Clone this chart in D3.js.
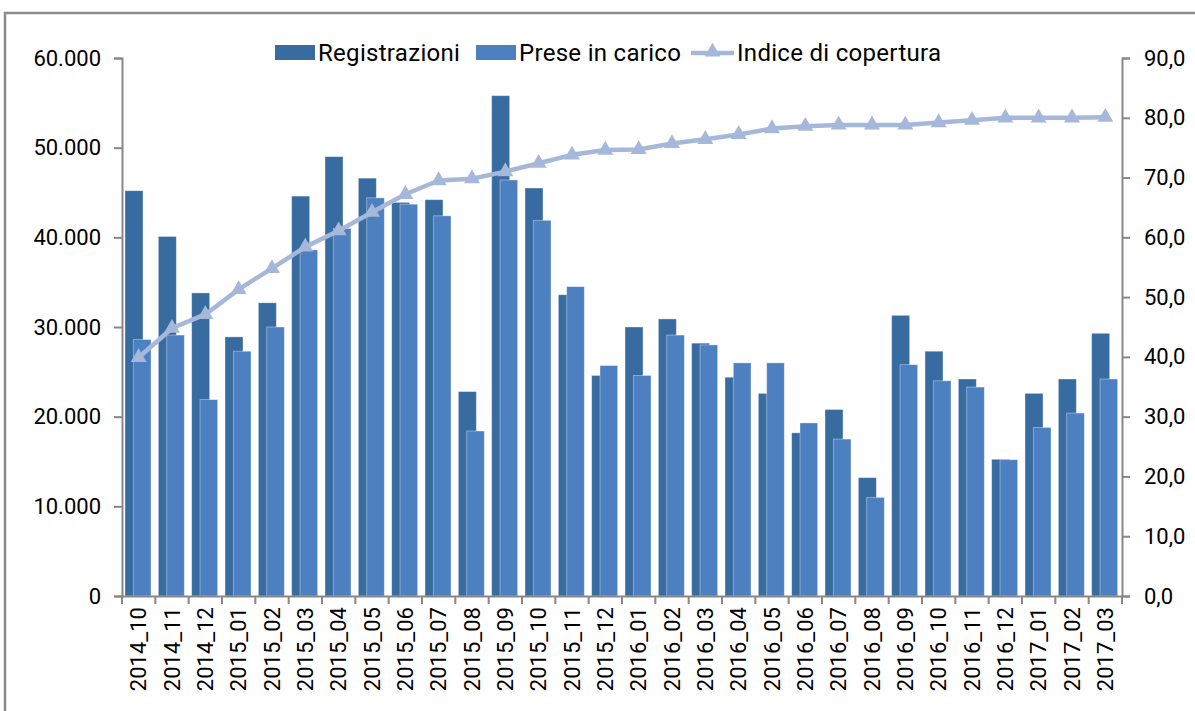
<!DOCTYPE html>
<html>
<head>
<meta charset="utf-8">
<script src="https://cdn.jsdelivr.net/npm/d3@7/dist/d3.min.js"></script>
<style>
  body { margin: 0; background: #fff; }
  text { font-family: Roboto, "Liberation Sans", Arial, sans-serif; }
</style>
</head>
<body>
<div id="chart"></div>
<script>
var months = ["2014_10","2014_11","2014_12","2015_01","2015_02","2015_03","2015_04","2015_05","2015_06","2015_07",
  "2015_08","2015_09","2015_10","2015_11","2015_12","2016_01","2016_02","2016_03","2016_04","2016_05",
  "2016_06","2016_07","2016_08","2016_09","2016_10","2016_11","2016_12","2017_01","2017_02","2017_03"];

var registrazioni = [45200, 40100, 33800, 28900, 32700, 44600, 49000, 46600, 43900, 44200,
  22800, 55800, 45500, 33600, 24600, 30000, 30900, 28200, 24400, 22600,
  18200, 20800, 13200, 31300, 27300, 24200, 15250, 22600, 24200, 29300];

var preseInCarico = [28600, 29100, 21900, 27300, 30000, 38600, 41000, 44400, 43700, 42400,
  18400, 46400, 41900, 34500, 25700, 24600, 29100, 28000, 26000, 26000,
  19300, 17500, 11000, 25800, 24000, 23300, 15200, 18800, 20400, 24200];

var indiceCopertura = [39.9, 44.8, 47.1, 51.3, 54.8, 58.4, 61.1, 64.2, 67.2, 69.5,
  69.8, 71.0, 72.4, 73.8, 74.6, 74.7, 75.7, 76.4, 77.2, 78.2,
  78.6, 78.8, 78.8, 78.8, 79.2, 79.6, 80.0, 80.0, 80.0, 80.1];

var leftTicks = [0, 10000, 20000, 30000, 40000, 50000, 60000];
var rightTicks = [0, 10, 20, 30, 40, 50, 60, 70, 80, 90];

var width = 1195, height = 711;
var plotLeft = 122, plotRight = 1122, plotTop = 58, plotBottom = 596;

var colDark = "#386ba0", colLight = "#4d80c0", colLine = "#a6b8da", axisCol = "#878787";

var it = d3.formatLocale({decimal: ",", thousands: ".", grouping: [3], currency: ["€", ""]});
var fmtLeft = it.format(",.0f"), fmtRight = it.format(",.1f");

var svg = d3.select('#chart').append('svg')
  .attr('width', width)
  .attr('height', height);

// outer frame (runs off the right and bottom edges)
svg.append('rect')
  .attr('x', 5).attr('y', 13)
  .attr('width', 1250).attr('height', 760)
  .attr('fill', 'none')
  .attr('stroke', '#8c8c8c')
  .attr('stroke-width', 2.5);

var x = d3.scaleBand().domain(months).range([plotLeft, plotRight]).padding(0);
var yL = d3.scaleLinear().domain([0, 60000]).range([plotBottom, plotTop]);
var yR = d3.scaleLinear().domain([0, 90]).range([plotBottom, plotTop]);
var bw = x.bandwidth();

// bars: dark behind, light in front, overlapping
svg.append('g').selectAll('rect')
  .data(registrazioni)
  .enter().append('rect')
  .attr('x', function(d, i) { return x(months[i]) + bw * 0.09; })
  .attr('y', function(d) { return yL(d); })
  .attr('width', bw * 0.54)
  .attr('height', function(d) { return yL(0) - yL(d); })
  .attr('fill', colDark)
  .attr('stroke', 'rgba(255,255,255,0.45)')
  .attr('stroke-width', 0.8);

svg.append('g').selectAll('rect')
  .data(preseInCarico)
  .enter().append('rect')
  .attr('x', function(d, i) { return x(months[i]) + bw * 0.34; })
  .attr('y', function(d) { return yL(d); })
  .attr('width', bw * 0.53)
  .attr('height', function(d) { return yL(0) - yL(d); })
  .attr('fill', colLight)
  .attr('stroke', 'rgba(255,255,255,0.45)')
  .attr('stroke-width', 0.8);

// axes
function styleAxis(g) {
  g.selectAll('path, line').attr('stroke', axisCol).attr('stroke-width', 2);
  g.selectAll('text').attr('font-size', '22px').attr('fill', '#000')
    .style('font-family', 'Roboto, "Liberation Sans", Arial, sans-serif');
}

svg.append('g')
  .attr('transform', 'translate(' + plotLeft + ',0)')
  .call(d3.axisLeft(yL).tickValues(leftTicks).tickFormat(fmtLeft).tickSizeInner(8).tickSizeOuter(8).tickPadding(13))
  .call(styleAxis);

svg.append('g')
  .attr('transform', 'translate(' + plotRight + ',0)')
  .call(d3.axisRight(yR).tickValues(rightTicks).tickFormat(fmtRight).tickSizeInner(8).tickSizeOuter(8).tickPadding(14))
  .call(styleAxis);

var xAxis = svg.append('g')
  .attr('transform', 'translate(0,' + plotBottom + ')')
  .call(d3.axisBottom(x).tickSize(0).tickPadding(0).tickSizeOuter(0))
  .call(styleAxis);
xAxis.selectAll('.tick text')
  .attr('transform', 'rotate(-90)')
  .attr('text-anchor', 'end')
  .attr('x', -11)
  .attr('y', 0)
  .attr('dy', '0.35em');

// category boundary ticks on x axis
svg.append('g').selectAll('line')
  .data(months.concat(['end']))
  .enter().append('line')
  .attr('x1', function(d, i) { return plotLeft + i * bw; })
  .attr('x2', function(d, i) { return plotLeft + i * bw; })
  .attr('y1', plotBottom)
  .attr('y2', plotBottom + 8)
  .attr('stroke', axisCol)
  .attr('stroke-width', 2);

// line series on right axis
var line = d3.line()
  .x(function(d, i) { return x(months[i]) + bw / 2; })
  .y(function(d) { return yR(d); });

svg.append('path')
  .datum(indiceCopertura)
  .attr('d', line)
  .attr('fill', 'none')
  .attr('stroke', colLine)
  .attr('stroke-width', 4.5)
  .attr('stroke-linejoin', 'round');

var tri = d3.symbol().type(d3.symbolTriangle).size(110);
svg.append('g').selectAll('path')
  .data(indiceCopertura)
  .enter().append('path')
  .attr('d', tri)
  .attr('transform', function(d, i) { return 'translate(' + (x(months[i]) + bw / 2) + ',' + yR(d) + ')'; })
  .attr('fill', colLine);

// legend
var legend = svg.append('g').attr('font-size', '24px').attr('letter-spacing', '0.3px');
legend.append('rect').attr('x', 275).attr('y', 45).attr('width', 40).attr('height', 15).attr('fill', colDark);
legend.append('text').attr('x', 318).attr('y', 53).attr('dy', '0.35em').text('Registrazioni');
legend.append('rect').attr('x', 476).attr('y', 45).attr('width', 40).attr('height', 15).attr('fill', colLight);
legend.append('text').attr('x', 519).attr('y', 53).attr('dy', '0.35em').text('Prese in carico');
legend.append('line').attr('x1', 691).attr('x2', 734).attr('y1', 53).attr('y2', 53)
  .attr('stroke', colLine).attr('stroke-width', 4.5);
legend.append('path').attr('d', tri).attr('transform', 'translate(712.5,52)').attr('fill', colLine);
legend.append('text').attr('x', 737).attr('y', 53).attr('dy', '0.35em').text('Indice di copertura');
</script>
</body>
</html>
